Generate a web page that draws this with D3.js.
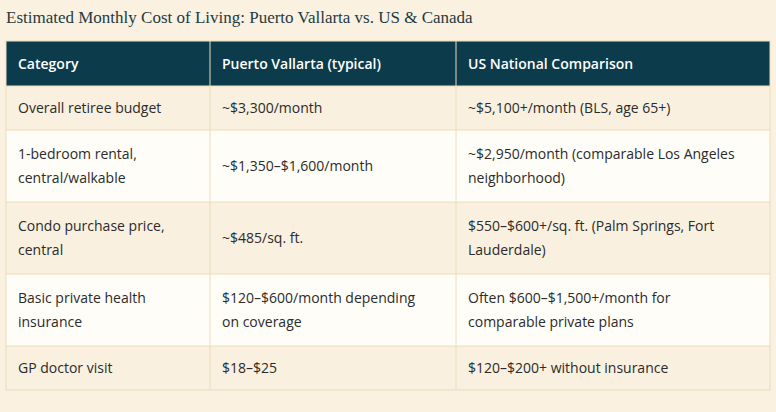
<!DOCTYPE html>
<html><head><meta charset="utf-8">
<script src="https://cdn.jsdelivr.net/npm/d3@7"></script>
<style>body{margin:0;background:#faf1e1;}</style></head>
<body><svg id="c" width="776" height="412"></svg>
<script>
const title = "Estimated Monthly Cost of Living: Puerto Vallarta vs. US & Canada";
const headers = ["Category", "Puerto Vallarta (typical)", "US National Comparison"];
const categories = [["Overall retiree budget"], ["1-bedroom rental,", "central/walkable"], ["Condo purchase price,", "central"], ["Basic private health", "insurance"], ["GP doctor visit"]];
const pvValues = [["~$3,300/month"], ["~$1,350\u2013$1,600/month"], ["~$485/sq. ft."], ["$120\u2013$600/month depending", "on coverage"], ["$18\u2013$25"]];
const usValues = [["~$5,100+/month (BLS, age 65+)"], ["~$2,950/month (comparable Los Angeles", "neighborhood)"], ["$550\u2013$600+/sq. ft. (Palm Springs, Fort", "Lauderdale)"], ["Often $600\u2013$1,500+/month for", "comparable private plans"], ["$120\u2013$200+ without insurance"]];

const svg = d3.select("#c");
svg.append("rect").attr("width",776).attr("height",412).attr("fill","#faf1e1");
svg.append("text").attr("x",6).attr("y",23).text(title)
  .attr("font-family","Liberation Serif, serif").attr("font-size",17).attr("fill","#1f3b40");
const colX = [6,210,456,770];
const rowH = [45,44,72,72,72,44];
let y = [41]; rowH.forEach(h=>y.push(y[y.length-1]+h));
const rows = [headers.map(h=>[h])].concat(categories.map((c,i)=>[c,pvValues[i],usValues[i]]));
rows.forEach((r,ri)=>{
  const fill = ri===0 ? "#0c3b4b" : (ri%2===1 ? "#f9f0df" : "#fffdf8");
  svg.append("rect").attr("x",colX[0]).attr("y",y[ri]).attr("width",colX[3]-colX[0]).attr("height",rowH[ri]).attr("fill",fill);
  r.forEach((lines,ci)=>{
    const cy = y[ri]+rowH[ri]/2;
    const lh = 24;
    const t = svg.append("text").attr("font-family","Open Sans, sans-serif")
      .attr("font-size",ri===0?14:14).attr("font-weight",ri===0?600:400)
      .attr("fill",ri===0?"#ffffff":"#2b2b2b");
    lines.forEach((l,li)=>{
      t.append("tspan").attr("x",colX[ci]+12).attr("y",cy+(li-(lines.length-1)/2)*lh+5).text(l);
    });
  });
});
const bc="#ecdcbc";
y.slice(1,-1).forEach(v=>svg.append("line").attr("x1",colX[0]).attr("x2",colX[3]).attr("y1",v).attr("y2",v).attr("stroke",bc));
svg.append("rect").attr("x",colX[0]).attr("y",y[0]).attr("width",colX[3]-colX[0]).attr("height",y[y.length-1]-y[0]).attr("fill","none").attr("stroke",bc);
colX.slice(1,3).forEach(v=>svg.append("line").attr("x1",v).attr("x2",v).attr("y1",y[0]).attr("y2",y[y.length-1]).attr("stroke",bc));
</script></body></html>
